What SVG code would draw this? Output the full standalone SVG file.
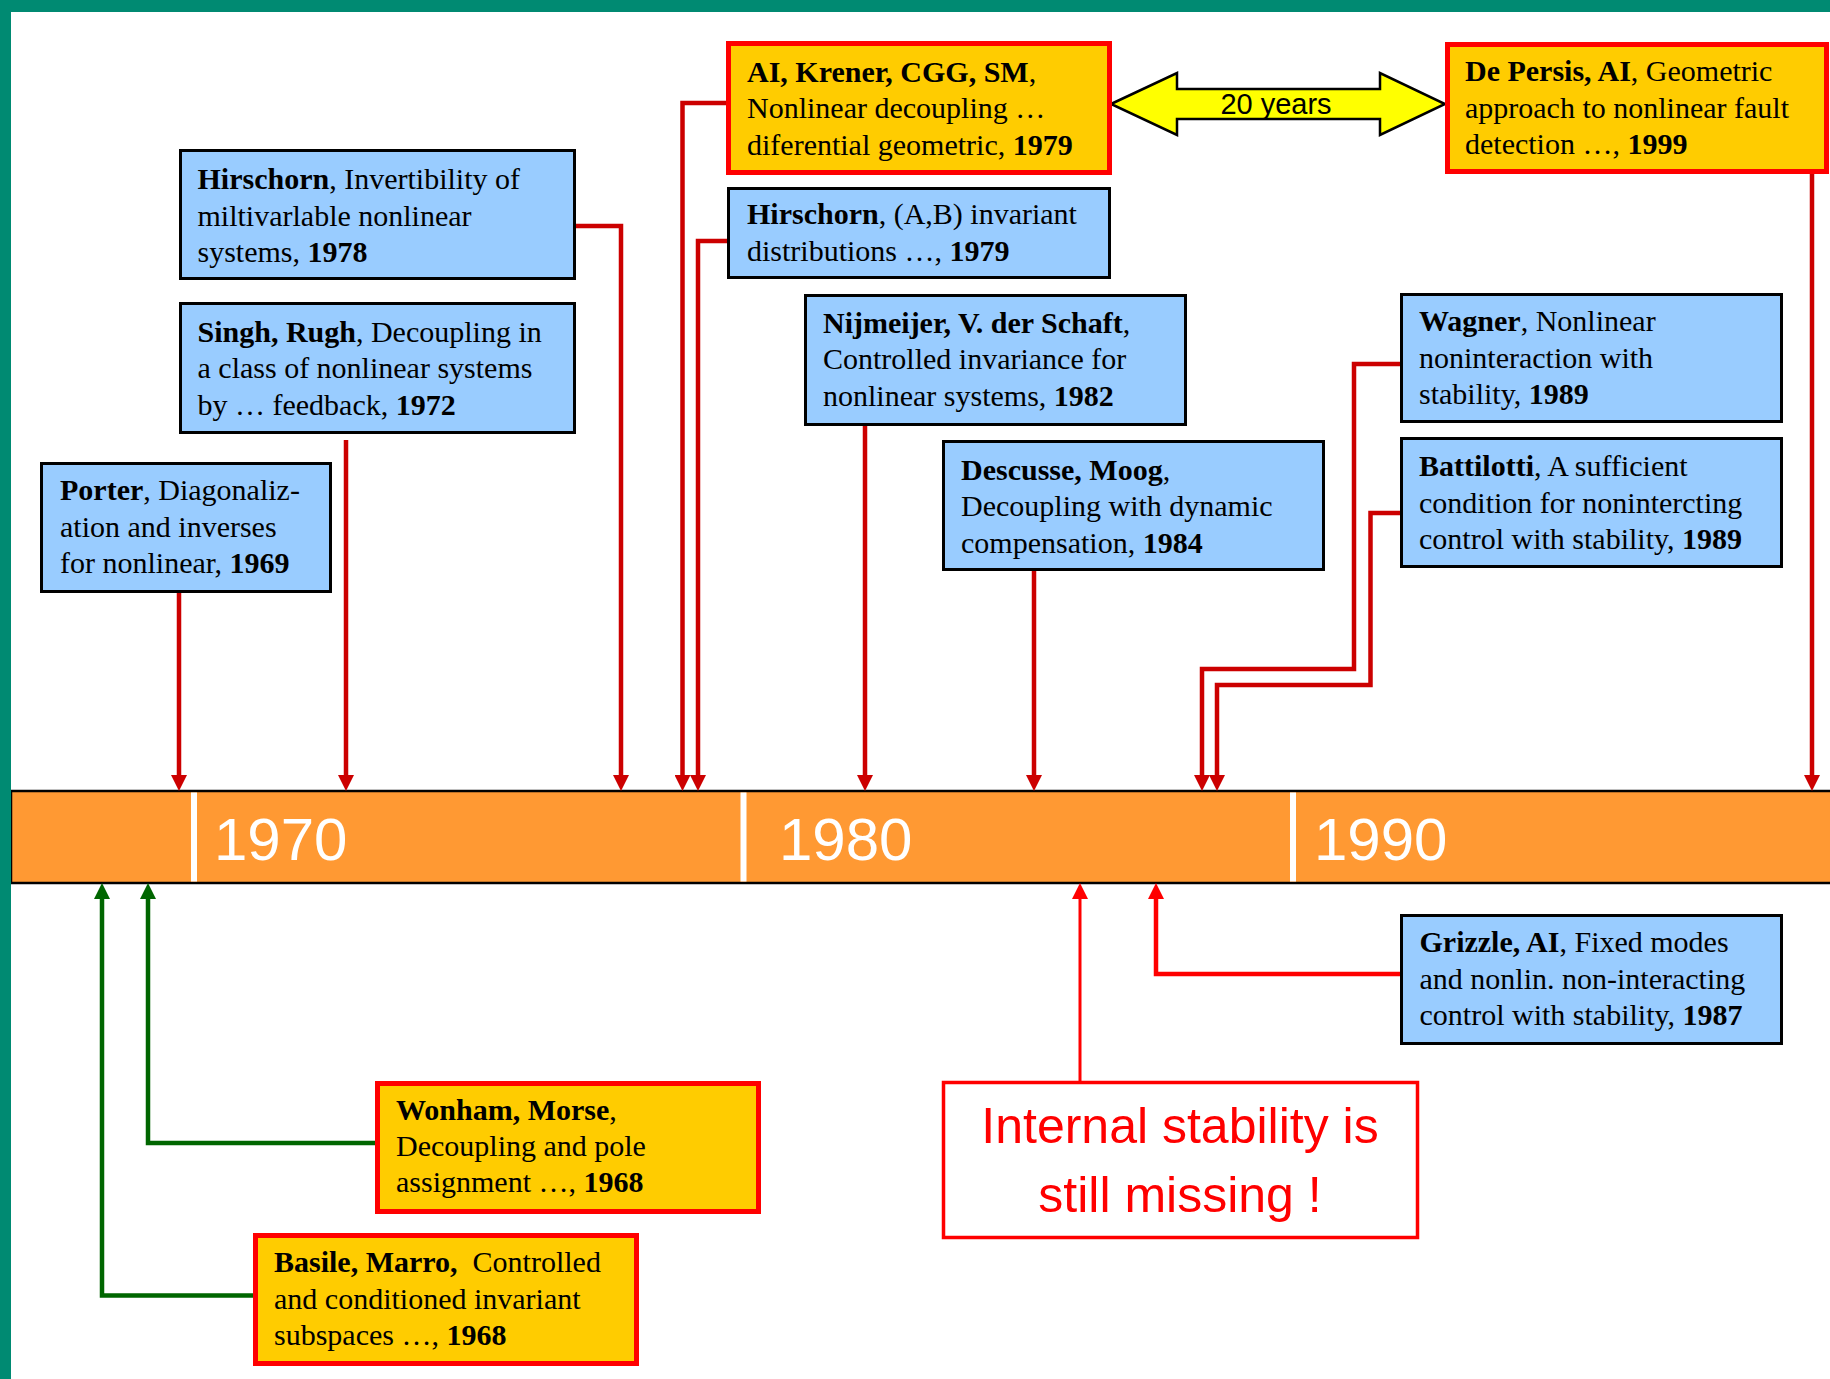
<svg xmlns="http://www.w3.org/2000/svg" width="1830" height="1379" viewBox="0 0 1830 1379">
<defs>
<style>
.blue{fill:#99CCFF;stroke:#000;stroke-width:3}
.gold{fill:#FFCC00;stroke:#FF0000;stroke-width:5}
.t{font-family:"Liberation Serif","Times New Roman",serif;font-size:30px;fill:#000}
.b{font-weight:bold}
.c1{fill:none;stroke:#CC0000;stroke-width:4.5}
.c2{fill:none;stroke:#FF0000;stroke-width:4.5}
.c3{fill:none;stroke:#FF0000;stroke-width:3}
.cg{fill:none;stroke:#006600;stroke-width:4.5}
.yr{font-family:"Liberation Sans",Arial,sans-serif;font-size:60px;fill:#fff}
</style>
<marker id="ar1" markerUnits="userSpaceOnUse" viewBox="0 0 16 16" markerWidth="16" markerHeight="16" refX="1" refY="8" orient="auto"><path d="M0,0 L16,8 L0,16 z" fill="#CC0000"/></marker>
<marker id="ar2" markerUnits="userSpaceOnUse" viewBox="0 0 16 16" markerWidth="16" markerHeight="16" refX="1" refY="8" orient="auto"><path d="M0,0 L16,8 L0,16 z" fill="#FF0000"/></marker>
<marker id="arg" markerUnits="userSpaceOnUse" viewBox="0 0 16 16" markerWidth="16" markerHeight="16" refX="1" refY="8" orient="auto"><path d="M0,0 L16,8 L0,16 z" fill="#006600"/></marker>
</defs>
<rect x="0" y="0" width="1830" height="1379" fill="#fff"/>

<g id="timeline">
<rect x="11" y="791" width="1830" height="92" fill="#FF9933" stroke="#000" stroke-width="2.5"/>
<line x1="194" y1="792.5" x2="194" y2="881.5" stroke="#fff" stroke-width="6"/>
<line x1="743.5" y1="792.5" x2="743.5" y2="881.5" stroke="#fff" stroke-width="6"/>
<line x1="1293" y1="792.5" x2="1293" y2="881.5" stroke="#fff" stroke-width="6"/>
<text class="yr" x="214" y="860">1970</text>
<text class="yr" x="779" y="860">1980</text>
<text class="yr" x="1314" y="860">1990</text>
</g>

<g id="connectors">
<path class="c1" d="M179,593 V776" marker-end="url(#ar1)"/>
<path class="c1" d="M346,440 V776" marker-end="url(#ar1)"/>
<path class="c1" d="M576,226 H621 V776" marker-end="url(#ar1)"/>
<path class="c1" d="M726,103 H682.5 V776" marker-end="url(#ar1)"/>
<path class="c1" d="M727,241 H698 V776" marker-end="url(#ar1)"/>
<path class="c1" d="M865,426 V776" marker-end="url(#ar1)"/>
<path class="c1" d="M1034,571 V776" marker-end="url(#ar1)"/>
<path class="c1" d="M1400,364 H1354 V669 H1202 V776" marker-end="url(#ar1)"/>
<path class="c1" d="M1400,513 H1370.5 V685 H1217 V776" marker-end="url(#ar1)"/>
<path class="c1" d="M1812,174 V776" marker-end="url(#ar1)"/>
<path class="c2" d="M1400,974 H1156 V898" marker-end="url(#ar2)"/>
<path class="c3" d="M1080,1081 V898" marker-end="url(#ar2)"/>
<path class="cg" d="M375,1143 H148 V898" marker-end="url(#arg)"/>
<path class="cg" d="M253,1295.5 H102 V898" marker-end="url(#arg)"/>
<polygon id="twenty-years-arrow" points="1111,104 1177,73 1177,89 1380,89 1380,73 1445,104 1380,135 1380,119 1177,119 1177,135" fill="#FFFF00" stroke="#000" stroke-width="2.5"/>
<text x="1276" y="114" text-anchor="middle" font-family="Liberation Sans, Arial, sans-serif" font-size="29" fill="#000">20 years</text>
</g>

<g id="porter">
<rect class="blue" x="41.5" y="463.5" width="289" height="128"/>
<text class="t" x="60" y="500"><tspan class="b">Porter</tspan>, Diagonaliz-</text>
<text class="t" x="60" y="536.5">ation and inverses</text>
<text class="t" x="60" y="573">for nonlinear, <tspan class="b">1969</tspan></text>
</g>

<g id="singh-rugh">
<rect class="blue" x="180.5" y="303.5" width="394" height="129"/>
<text class="t" x="197.5" y="341.5"><tspan class="b">Singh, Rugh</tspan>, Decoupling in</text>
<text class="t" x="197.5" y="378">a class of nonlinear systems</text>
<text class="t" x="197.5" y="414.5">by … feedback, <tspan class="b">1972</tspan></text>
</g>

<g id="hirschorn-1978">
<rect class="blue" x="180.5" y="150.5" width="394" height="128"/>
<text class="t" x="197.5" y="189"><tspan class="b">Hirschorn</tspan>, Invertibility of</text>
<text class="t" x="197.5" y="225.5">miltivarlable nonlinear</text>
<text class="t" x="197.5" y="262">systems, <tspan class="b">1978</tspan></text>
</g>

<g id="ai-krener">
<rect class="gold" x="728.5" y="43.5" width="381" height="129"/>
<text class="t" x="747" y="81.5"><tspan class="b">AI, Krener, CGG, SM</tspan>,</text>
<text class="t" x="747" y="118">Nonlinear decoupling …</text>
<text class="t" x="747" y="154.5">diferential geometric, <tspan class="b">1979</tspan></text>
</g>

<g id="hirschorn-1979">
<rect class="blue" x="728.5" y="188.5" width="381" height="89"/>
<text class="t" x="747" y="224"><tspan class="b">Hirschorn</tspan>, (A,B) invariant</text>
<text class="t" x="747" y="261">distributions …, <tspan class="b">1979</tspan></text>
</g>

<g id="nijmeijer">
<rect class="blue" x="805.5" y="295.5" width="380" height="129"/>
<text class="t" x="823" y="332.5"><tspan class="b">Nijmeijer, V. der Schaft</tspan>,</text>
<text class="t" x="823" y="369">Controlled invariance for</text>
<text class="t" x="823" y="405.5">nonlinear systems, <tspan class="b">1982</tspan></text>
</g>

<g id="descusse-moog">
<rect class="blue" x="943.5" y="441.5" width="380" height="128"/>
<text class="t" x="961" y="479.5"><tspan class="b">Descusse, Moog</tspan>,</text>
<text class="t" x="961" y="516">Decoupling with dynamic</text>
<text class="t" x="961" y="552.5">compensation, <tspan class="b">1984</tspan></text>
</g>

<g id="de-persis">
<rect class="gold" x="1447.5" y="44.5" width="379" height="127"/>
<text class="t" x="1465" y="81"><tspan class="b">De Persis, AI</tspan>, Geometric</text>
<text class="t" x="1465" y="117.5">approach to nonlinear fault</text>
<text class="t" x="1465" y="154">detection …, <tspan class="b">1999</tspan></text>
</g>

<g id="wagner">
<rect class="blue" x="1401.5" y="294.5" width="380" height="127"/>
<text class="t" x="1419" y="331"><tspan class="b">Wagner</tspan>, Nonlinear</text>
<text class="t" x="1419" y="367.5">noninteraction with</text>
<text class="t" x="1419" y="404">stability, <tspan class="b">1989</tspan></text>
</g>

<g id="battilotti">
<rect class="blue" x="1401.5" y="438.5" width="380" height="128"/>
<text class="t" x="1419" y="476"><tspan class="b">Battilotti</tspan>, A sufficient</text>
<text class="t" x="1419" y="512.5">condition for nonintercting</text>
<text class="t" x="1419" y="549">control with stability, <tspan class="b">1989</tspan></text>
</g>

<g id="grizzle">
<rect class="blue" x="1401.5" y="915.5" width="380" height="128"/>
<text class="t" x="1419.5" y="952"><tspan class="b">Grizzle, AI</tspan>, Fixed modes</text>
<text class="t" x="1419.5" y="988.5">and nonlin. non-interacting</text>
<text class="t" x="1419.5" y="1025">control with stability, <tspan class="b">1987</tspan></text>
</g>

<g id="wonham-morse">
<rect class="gold" x="377.5" y="1083.5" width="381" height="128"/>
<text class="t" x="396" y="1119.5"><tspan class="b">Wonham, Morse</tspan>,</text>
<text class="t" x="396" y="1156">Decoupling and pole</text>
<text class="t" x="396" y="1192">assignment …, <tspan class="b">1968</tspan></text>
</g>

<g id="basile-marro">
<rect class="gold" x="255.5" y="1235.5" width="381" height="128"/>
<text class="t" x="274" y="1272"><tspan class="b">Basile, Marro,</tspan>&#160; Controlled</text>
<text class="t" x="274" y="1308.5">and conditioned invariant</text>
<text class="t" x="274" y="1345">subspaces …, <tspan class="b">1968</tspan></text>
</g>

<g id="internal-stability">
<rect x="943.5" y="1082.5" width="474" height="155" fill="#fff" stroke="#FF0000" stroke-width="3.5"/>
<text x="1180" y="1143" text-anchor="middle" font-family="Liberation Sans, Arial, sans-serif" font-size="50" fill="#FF0000">Internal stability is</text>
<text x="1180" y="1212" text-anchor="middle" font-family="Liberation Sans, Arial, sans-serif" font-size="50" fill="#FF0000">still missing !</text>
</g>

<g id="frame">
<rect x="0" y="0" width="1830" height="12" fill="#008A72"/>
<rect x="0" y="0" width="11" height="1379" fill="#008A72"/>
</g>
</svg>
